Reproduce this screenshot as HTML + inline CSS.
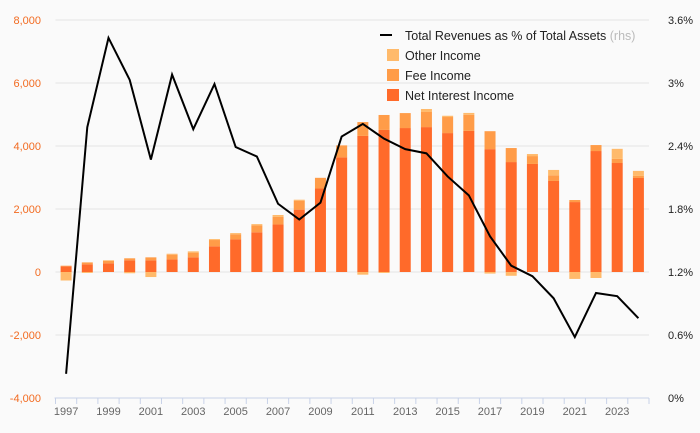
<!DOCTYPE html>
<html><head><meta charset="utf-8"><style>
body{margin:0;background:#fafafa;}
svg{display:block;font-family:"Liberation Sans",sans-serif;}
</style></head><body>
<svg id="chart" width="700" height="433" viewBox="0 0 700 433" xmlns="http://www.w3.org/2000/svg">
<rect width="700" height="433" fill="#fafafa"/>
<g id="grid"></g><g id="bars"></g><g id="line"></g><g id="axes"></g>
<g id="legend">
  <line x1="380" y1="35" x2="392" y2="35" stroke="#000" stroke-width="2"/>
  <text x="405" y="40" font-size="12.5" fill="#222">Total Revenues as % of Total Assets <tspan fill="#bbb">(rhs)</tspan></text>
  <rect x="387" y="49" width="12" height="12" fill="#FFBA6B"/>
  <text x="405" y="60" font-size="12.5" fill="#222">Other Income</text>
  <rect x="387" y="69" width="12" height="12" fill="#FF9C48"/>
  <text x="405" y="80" font-size="12.5" fill="#222">Fee Income</text>
  <rect x="387" y="89" width="12" height="12" fill="#FF6A2A"/>
  <text x="405" y="100" font-size="12.5" fill="#222">Net Interest Income</text>
</g>
</svg>
<script>
const years=[1997,1998,1999,2000,2001,2002,2003,2004,2005,2006,2007,2008,2009,2010,2011,2012,2013,2014,2015,2016,2017,2018,2019,2020,2021,2022,2023,2024];
const netInterest=[180,245,275,370,370,400,465,815,1035,1260,1510,1980,2650,3640,4320,4510,4570,4600,4410,4480,3900,3490,3430,2890,2220,3840,3460,2985];
const feeIncome=[20,60,80,65,95,150,150,200,160,220,240,285,340,380,440,475,475,480,510,510,570,445,250,180,65,190,130,65];
const otherIncome=[-270,-30,20,-40,-160,30,40,30,40,40,60,30,0,0,-85,-30,0,95,40,60,-50,-120,65,170,-220,-190,320,160];
const revPct=[0.23,2.58,3.43,3.03,2.27,3.08,2.56,2.99,2.39,2.30,1.85,1.70,1.86,2.49,2.61,2.47,2.37,2.33,2.11,1.93,1.54,1.26,1.16,0.95,0.58,1.00,0.97,0.76];
const leftTicks=[-4000,-2000,0,2000,4000,6000,8000];
const rightTicks=[0,0.6,1.2,1.8,2.4,3.0,3.6];
const rightTickLabels=["0%","0.6%","1.2%","1.8%","2.4%","3%","3.6%"];

const NS="http://www.w3.org/2000/svg";
const X0=55.5,X1=649,TOP=20,BOT=398;
const bw=(X1-X0)/years.length;
const xc=i=>X0+bw*(i+0.5);
const yL=v=>BOT-(v+4000)/12000*(BOT-TOP);
const yR=v=>BOT-v/3.6*(BOT-TOP);
function mk(tag,attrs,parent){const e=document.createElementNS(NS,tag);for(const k in attrs)e.setAttribute(k,attrs[k]);parent.appendChild(e);return e;}
const grid=document.getElementById('grid'),bars=document.getElementById('bars'),line=document.getElementById('line'),axes=document.getElementById('axes');

leftTicks.forEach((t,i)=>{
  const y=yL(t);
  if(t!==-4000){const g=mk('line',{x1:X0,x2:X1,y1:y,y2:y,stroke:'#e4e4e4','stroke-width':1},grid);
  
  }
  const tx=mk('text',{x:41,y:y+4,'text-anchor':'end','font-size':11,fill:'#F26B21'},axes);
  tx.textContent=t.toLocaleString('en-US');
  
  
});
rightTicks.forEach((t,i)=>{
  const tx=mk('text',{x:668,y:yR(t)+4,'font-size':11,fill:'#222'},axes);
  tx.textContent=rightTickLabels[i];
  
  
});
const ax=mk('line',{x1:X0-1,x2:X1,y1:BOT,y2:BOT,stroke:'#c8d2e8','stroke-width':1},axes);


for(let i=0;i<=years.length;i++){
  const x=X0+bw*i;
  const tk=mk('line',{x1:x,x2:x,y1:BOT,y2:BOT+6,stroke:'#c8d2e8'},axes);
  
  
}
years.forEach((yr,i)=>{
  if(i%2===0){const tx=mk('text',{x:xc(i),y:415,'text-anchor':'middle','font-size':11,fill:'#666'},axes);
  tx.textContent=yr;
  
  }
});

const W=11;
years.forEach((yr,i)=>{
  let pos=0,neg=0;
  [[netInterest[i],'#FF6A2A','bar-net-interest'],[feeIncome[i],'#FF9C48','bar-fee'],[otherIncome[i],'#FFBA6B','bar-other']].forEach(([v,c,n])=>{
    let a,b;
    if(v>=0){a=pos;b=pos+v;pos=b;}else{a=neg;b=neg+v;neg=b;}
    const y1=yL(Math.max(a,b)),y2=yL(Math.min(a,b));
    const r=mk('rect',{x:xc(i)-W/2,y:y1,width:W,height:Math.max(0,y2-y1),fill:c},bars);
    
    
  });
});
const pl=mk('polyline',{points:revPct.map((v,i)=>xc(i)+','+yR(v)).join(' '),fill:'none',stroke:'#000','stroke-width':2,'stroke-linejoin':'miter'},line);


</script>
</body></html>
